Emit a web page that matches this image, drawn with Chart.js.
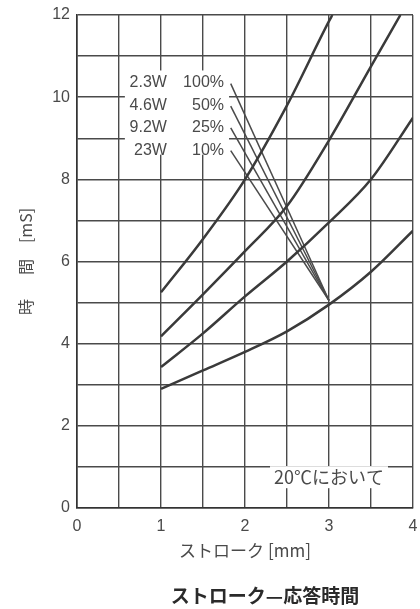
<!DOCTYPE html>
<html>
<head>
<meta charset="utf-8">
<script src="https://cdn.jsdelivr.net/npm/chart.js@4.4.0/dist/chart.umd.min.js"></script>
<style>
  body { margin: 0; background: #fff; }
  #wrap { width: 420px; height: 609px; position: relative; }
</style>
</head>
<body>
<div id="wrap"><canvas id="chart"></canvas></div>
<script>
// curves: stroke [mm] -> time [mS]
const stroke100 = [1, 1.5, 2, 2.5, 3, 3.04];
const time100 = [5.25, 6.55, 8.0, 9.8, 11.85, 12];
const stroke50 = [1, 1.5, 2, 2.5, 3, 3.5, 3.85];
const time50 = [4.18, 5.2, 6.25, 7.35, 8.95, 10.75, 12];
const stroke25 = [1, 1.5, 2, 2.5, 3, 3.5, 4];
const time25 = [3.43, 4.25, 5.15, 6.0, 6.95, 8.0, 9.5];
const stroke10 = [1, 1.5, 2, 2.5, 3, 3.5, 4];
const time10 = [2.9, 3.35, 3.8, 4.3, 4.95, 5.75, 6.75];

// legend labels and their leader lines
const powerLabels = ['2.3W', '4.6W', '9.2W', '23W'];
const dutyLabels = ['100%', '50%', '25%', '10%'];
const labelRows = [10.36, 9.8, 9.27, 8.71];
const leaderStartX = 1.83;
const leaderStartY = [10.33, 9.78, 9.25, 8.7];
const leaderEnd = [3.0, 5.05];

const xTicks = [0, 1, 2, 3, 4];
const yTicks = [0, 2, 4, 6, 8, 10, 12];

function toPoints(xs, ys) {
    return xs.map((x, i) => ({ x: x, y: ys[i] }));
}

const curveStyle = {
    showLine: true,
    borderColor: '#3a3a3a',
    borderWidth: 2.5,
    pointRadius: 0,
    cubicInterpolationMode: 'monotone',
    fill: false
};

const datasets = [
    Object.assign({ data: toPoints(stroke100, time100) }, curveStyle),
    Object.assign({ data: toPoints(stroke50, time50) }, curveStyle),
    Object.assign({ data: toPoints(stroke25, time25) }, curveStyle),
    Object.assign({ data: toPoints(stroke10, time10) }, curveStyle)
];

leaderStartY.forEach(y => {
    datasets.push({
        data: [{ x: leaderStartX, y: y }, { x: leaderEnd[0], y: leaderEnd[1] }],
        showLine: true,
        borderColor: '#4a4a4a',
        borderWidth: 1.5,
        pointRadius: 0,
        fill: false
    });
});

// texts inside the plot and the caption underneath
const textPlugin = {
    id: 'texts',
    beforeDatasetsDraw(chart) {
        // white patch behind the label block
        const ctx = chart.ctx;
        const xs = chart.scales.x;
        const ys = chart.scales.y;
        const left = xs.getPixelForValue(0.57);
        const right = xs.getPixelForValue(1.81);
        const top = ys.getPixelForValue(10.65);
        const bottom = ys.getPixelForValue(8.6);
        ctx.save();
        ctx.fillStyle = '#fff';
        ctx.fillRect(left, top, right - left, bottom - top);
        ctx.restore();
    },
    afterDraw(chart) {
        const ctx = chart.ctx;
        const xs = chart.scales.x;
        const ys = chart.scales.y;
        ctx.save();
        ctx.fillStyle = '#4a4a4a';
        ctx.font = '16px "Liberation Sans"';
        ctx.textBaseline = 'middle';
        ctx.textAlign = 'right';
        labelRows.forEach((row, i) => {
            const py = ys.getPixelForValue(row);
            ctx.fillText(powerLabels[i], xs.getPixelForValue(1.07), py);
            ctx.fillText(dutyLabels[i], xs.getPixelForValue(1.75), py);
        });

        // note with white box over the grid
        const nx = xs.getPixelForValue(3.0);
        const ny = ys.getPixelForValue(0.75);
        ctx.font = '18px "Noto Sans CJK JP"';
        const w = ctx.measureText('20℃において').width;
        ctx.fillStyle = '#fff';
        ctx.fillRect(nx - w / 2 - 4, ny - 11, w + 8, 22);
        ctx.fillStyle = '#4a4a4a';
        ctx.textAlign = 'center';
        ctx.fillText('20℃において', nx, ny);

        ctx.fillStyle = '#2a2a2a';
        ctx.font = 'bold 19px "Noto Sans CJK JP"';
        ctx.fillText('ストローク—応答時間', 265, 596);
        ctx.restore();
    }
};

new Chart(document.getElementById('chart'), {
    type: 'scatter',
    data: { datasets: datasets },
    plugins: [textPlugin],
    options: {
        responsive: true,
        maintainAspectRatio: false,
        animation: false,
        layout: { padding: { left: 0, right: 7, top: 15, bottom: 41 } },
        plugins: { legend: { display: false }, tooltip: { enabled: false } },
        scales: {
            x: {
                type: 'linear',
                min: 0,
                max: 4,
                afterFit: s => { s.height = 60; s.paddingRight = 0; s.paddingLeft = 0; },
                ticks: {
                    stepSize: 0.5,
                    padding: 9,
                    color: '#4a4a4a',
                    font: { family: 'Liberation Sans', size: 16 },
                    callback: v => xTicks.includes(v) ? v : ''
                },
                grid: { color: '#4a4a4a', lineWidth: 1.4, drawTicks: false },
                border: { color: '#333', width: 1.6 },
                title: {
                    display: true,
                    text: 'ストローク [mm]',
                    color: '#4a4a4a',
                    font: { family: 'Noto Sans CJK JP', size: 17 },
                    padding: { top: 0, bottom: 7 }
                }
            },
            y: {
                min: 0,
                max: 12,
                afterFit: s => { s.width = 77; s.paddingTop = 0; s.paddingBottom = 0; },
                ticks: {
                    stepSize: 1,
                    padding: 7,
                    color: '#4a4a4a',
                    font: { family: 'Liberation Sans', size: 16 },
                    callback: v => yTicks.includes(v) ? v : ''
                },
                grid: { color: '#4a4a4a', lineWidth: 1.4, drawTicks: false },
                border: { color: '#333', width: 1.6 },
                title: {
                    display: true,
                    text: '時\u3000\u2002間\u3000[mS]',
                    color: '#4a4a4a',
                    font: { family: 'Noto Sans CJK JP', size: 16 },
                    padding: { top: 16, bottom: 0 }
                }
            }
        }
    }
});
</script>
</body>
</html>
